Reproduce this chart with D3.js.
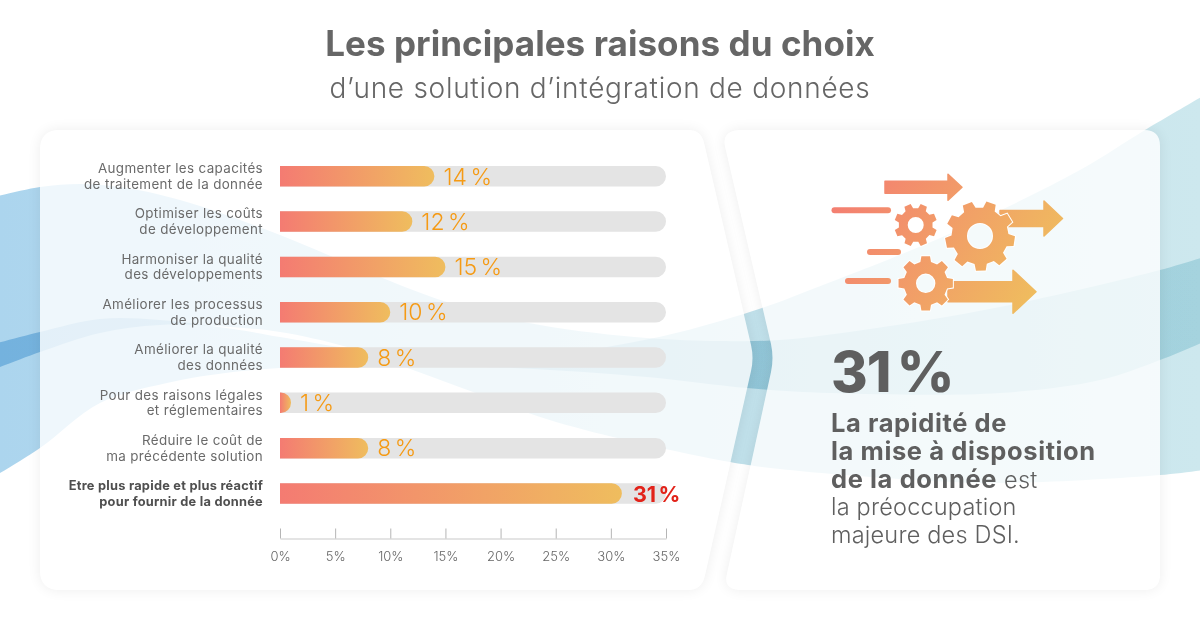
<!DOCTYPE html>
<html lang="fr">
<head>
<meta charset="utf-8">
<title>Les principales raisons du choix</title>
<script src="https://cdn.jsdelivr.net/npm/d3@7"></script>
<style>
html,body{margin:0;padding:0;background:#fff;}
svg{display:block;font-family:Inter,"Open Sans",sans-serif;}
</style>
</head>
<body>
<svg id="chart" width="1200" height="630" viewBox="0 0 1200 630"></svg>
<script>
// ---------- data ----------
const categories = [
  ["Augmenter les capacités", "de traitement de la donnée"],
  ["Optimiser les coûts", "de développement"],
  ["Harmoniser la qualité", "des développements"],
  ["Améliorer les processus", "de production"],
  ["Améliorer la qualité", "des données"],
  ["Pour des raisons légales", "et réglementaires"],
  ["Réduire le coût de", "ma précédente solution"],
  ["Etre plus rapide et plus réactif", "pour fournir de la donnée"]
];
const values = [14, 12, 15, 10, 8, 1, 8, 31];
const valueLabels = ["14 %", "12 %", "15 %", "10 %", "8 %", "1 %", "8 %", "31 %"];
const highlightIndex = 7;
const axisTicks = [0, 5, 10, 15, 20, 25, 30, 35];
const titleText = "Les principales raisons du choix";
const subtitleText = "d’une solution d’intégration de données";
const bigNumber = "31 %";
const boldLines = ["La rapidité de", "la mise à disposition", "de la donnée"];
const boldTail = " est";
const lightLines = ["la préoccupation", "majeure des DSI."];

// background ribbons (decor outlines)
const ribbonXTop = [[-10,198],[40,187],[80,184],[120,187],[180,200],[280,235],[380,277],[447,302],[540,325],[647,338],[720,341],[780,340],[870,329],[1000,307],[1160,270],[1210,255]];
const ribbonXBottom = [[-10,371],[40,352],[100,333],[160,325],[230,327],[280,332],[347,347],[413,370],[473,392],[540,417],[613,437],[730,462],[780,469],[900,479],[1000,483],[1160,475],[1210,469]];
const ribbonYTop = [[-10,345],[40,332],[100,319],[160,320],[233,329],[280,337],[347,348],[450,358],[540,356],[607,347],[680,332],[762,308],[810,290],[947,235],[1080,170],[1145,130],[1210,92]];
const ribbonYBottom = [[-10,479],[40,448],[100,403],[167,383],[233,372],[300,367],[413,366],[513,368],[647,377],[747,388],[830,393],[1000,393],[1100,380],[1160,360],[1210,339]];

// ---------- layout helpers ----------
const svg = d3.select("#chart");
const defs = svg.append("defs");
const INK = "#5f5f5f";

const ribbonGrad = defs.append("linearGradient").attr("id","ribbonGrad")
  .attr("gradientUnits","userSpaceOnUse").attr("x1",0).attr("x2",1200).attr("y1",0).attr("y2",0);
ribbonGrad.append("stop").attr("offset",0).attr("stop-color","#acd5ee");
ribbonGrad.append("stop").attr("offset",0.62).attr("stop-color","#c0e0ea");
ribbonGrad.append("stop").attr("offset",1).attr("stop-color","#cde8ee");

const barGrad = defs.append("linearGradient").attr("id","barGrad");
barGrad.append("stop").attr("offset",0).attr("stop-color","#f47b72");
barGrad.append("stop").attr("offset",1).attr("stop-color","#efbd5e");

const iconGrad = defs.append("linearGradient").attr("id","iconGrad")
  .attr("gradientUnits","userSpaceOnUse").attr("x1",835).attr("y1",180).attr("x2",1035).attr("y2",300);
iconGrad.append("stop").attr("offset",0).attr("stop-color","#f47b72");
iconGrad.append("stop").attr("offset",1).attr("stop-color","#efbd5e");

const blur = defs.append("filter").attr("id","soft").attr("x","-10%").attr("y","-10%").attr("width","120%").attr("height","120%");
blur.append("feGaussianBlur").attr("stdDeviation",7);

// ---------- ribbons ----------
const edge = d3.line().curve(d3.curveCatmullRom.alpha(0.5));
function ribbon(top, bottom){
  return edge(top) + "L" + edge(bottom.slice().reverse()).slice(1) + "Z";
}
const ribbons = svg.append("g").style("isolation","isolate");
[[ribbonXTop,ribbonXBottom],[ribbonYTop,ribbonYBottom]].forEach(([t,b])=>{
  ribbons.append("path").attr("d",ribbon(t,b)).attr("fill","url(#ribbonGrad)").style("mix-blend-mode","multiply");
});

// ---------- cards ----------
const leftCard = "M60,130H688Q701,130 704,143L751,345Q754,358 751,371L705,575Q702,590 688,590H60Q40,590 40,570V150Q40,130 60,130Z";
const rightCard = "M742,130H1144Q1160,130 1160,146V574Q1160,590 1144,590H742Q723,590 727,574L771,372Q774,358 771,344L725,146Q722,130 742,130Z";
const outside = "M-50,-50H1250V680H-50Z";
[leftCard,rightCard].forEach((d,i)=>{
  const id = "outside"+i;
  defs.append("clipPath").attr("id",id).append("path").attr("clip-rule","evenodd").attr("d",outside+d);
  svg.append("g").attr("clip-path",`url(#${id})`)
    .append("path").attr("d",d).attr("fill","#000").attr("opacity",0.07).attr("filter","url(#soft)");
});
svg.append("path").attr("d",leftCard).attr("fill","#fff").attr("fill-opacity",0.8);
svg.append("path").attr("d",rightCard).attr("fill","#fff").attr("fill-opacity",0.8);

// ---------- titles ----------
svg.append("text").attr("x",600).attr("y",56).attr("text-anchor","middle")
  .attr("font-size",35).attr("font-weight",700).attr("letter-spacing",0.07).attr("fill","#666").text(titleText);
svg.append("text").attr("x",600).attr("y",98).attr("text-anchor","middle")
  .attr("font-size",28).attr("font-weight",300).attr("letter-spacing",0.72).attr("fill","#666").text(subtitleText);

// ---------- chart ----------
const x = d3.scaleLinear().domain([0,35]).range([280,666]);
const y = d3.scalePoint().domain(d3.range(categories.length)).range([176.3,493.5]);
const barH = 20.5;

function barPath(v){
  const x0 = x(0), x1 = x(v), r = Math.min(barH/2, x1-x0), p = d3.path();
  p.moveTo(x0,-barH/2);
  p.lineTo(x1-r,-barH/2);
  p.arc(x1-r,-barH/2+barH/2,barH/2,-Math.PI/2,Math.PI/2);
  p.lineTo(x0,barH/2);
  p.closePath();
  return p.toString();
}

const rows = svg.append("g").selectAll("g").data(values).join("g")
  .attr("transform",(d,i)=>`translate(0,${y(i)})`);
rows.append("path").attr("d",barPath(35)).attr("fill","#e4e4e4");
rows.append("path").attr("d",d=>barPath(d)).attr("fill","url(#barGrad)");

const labels = rows.append("text").attr("text-anchor","end")
  .attr("font-size",(d,i)=>i===highlightIndex?12.8:13.4).attr("fill",(d,i)=>i===highlightIndex?"#4f4f4f":"#6a6a6a")
  .attr("font-weight",(d,i)=>i===highlightIndex?700:400)
  .attr("letter-spacing",(d,i)=>i===highlightIndex?0.25:0.36);
labels.selectAll("tspan").data((d,i)=>categories[i]).join("tspan")
  .attr("x",263).attr("y",(d,i)=>i===0?-3.2:12.5).text(d=>d);

rows.append("text")
  .attr("x",(d,i)=>x(d)+(i===highlightIndex?11:9))
  .attr("y",8.2)
  .attr("font-size",(d,i)=>i===highlightIndex?21.5:23)
  .attr("font-weight",(d,i)=>i===highlightIndex?700:300)
  .attr("letter-spacing",0)
  .attr("word-spacing",(d,i)=>i===highlightIndex?-2.5:-3)
  .attr("fill",(d,i)=>i===highlightIndex?"#e2231a":"#f59a14")
  .text((d,i)=>valueLabels[i]);

const axis = svg.append("g").attr("transform","translate(0,538.5)")
  .call(d3.axisBottom(x).tickValues(axisTicks).tickFormat(d=>d+"%").tickSizeOuter(0).tickSizeInner(-10).tickPadding(10));
axis.select(".domain").attr("stroke","#c9c9c9").attr("stroke-width",1.2);
axis.selectAll(".tick line").attr("stroke","#b5b5b5");
axis.selectAll(".tick text").attr("font-family","Inter").attr("font-size",13).attr("font-weight",300).attr("fill","#666").attr("dy","0.95em");

// ---------- icon ----------
const icon = svg.append("g");
function arrow(x0,x1,yc,halfShaft,halfHead,tip){
  const p = d3.path();
  p.moveTo(x0,yc-halfShaft); p.lineTo(x1,yc-halfShaft); p.lineTo(x1,yc-halfHead);
  p.lineTo(tip,yc); p.lineTo(x1,yc+halfHead); p.lineTo(x1,yc+halfShaft);
  p.lineTo(x0,yc+halfShaft); p.closePath();
  return p.toString();
}
function gear(cx,cy,rOuter,rRoot,rHole,teeth,rot){
  const p = d3.path(), step = 2*Math.PI/teeth;
  for(let i=0;i<teeth;i++){
    const a = rot+i*step;
    const pt = (r,da)=>[cx+r*Math.cos(a+da),cy+r*Math.sin(a+da)];
    const seq = [pt(rRoot,-step*0.31),pt(rOuter,-step*0.2),pt(rOuter,step*0.2),pt(rRoot,step*0.31)];
    seq.forEach((q,j)=>{ (i===0&&j===0)?p.moveTo(q[0],q[1]):p.lineTo(q[0],q[1]); });
  }
  p.closePath();
  p.moveTo(cx+rHole,cy);
  p.arc(cx,cy,rHole,0,2*Math.PI);
  p.closePath();
  return p.toString();
}
const iconFill = sel => sel.attr("fill","url(#iconGrad)").attr("stroke","url(#iconGrad)").attr("stroke-width",1.5).attr("stroke-linejoin","round");
[[885,948,187.3,6,13,962],[1000,1044,218.5,8,17.5,1062.5],[948,1013,291.7,10,21.5,1036]].forEach(a=>{
  icon.append("path").attr("d",arrow(...a)).call(iconFill);
});
[[834.5,888,210.3],[870,898,252],[848,888,281]].forEach(([a,b,c])=>{
  icon.append("line").attr("x1",a).attr("x2",b).attr("y1",c).attr("y2",c)
    .attr("stroke","url(#iconGrad)").attr("stroke-width",6).attr("stroke-linecap","round");
});
[[915.7,225,21.5,17,8,8,0.39],[980,236,35,28.5,13,9,0.15],[925.7,283.3,27.5,22,9.7,8,0]].forEach(g=>{
  icon.append("path").attr("d",gear(...g)).attr("fill-rule","evenodd")
    .attr("fill","url(#iconGrad)").attr("stroke","#fff").attr("stroke-width",2).style("paint-order","stroke");
});

// ---------- right text ----------
svg.append("text").attr("x",831).attr("y",392).attr("font-size",56).attr("font-weight",800)
  .attr("letter-spacing",-1).attr("word-spacing",-5).attr("fill",INK).text(bigNumber);
const bold = svg.append("g").attr("fill",INK);
const lineY = d3.scaleLinear().domain([0,4]).range([432,543]);
boldLines.forEach((t,i)=>{
  const el = bold.append("text").attr("x",831).attr("y",lineY(i));
  el.append("tspan").attr("font-size",25.5).attr("letter-spacing",0.6).attr("font-weight",700).text(t);
  if(i===boldLines.length-1) el.append("tspan").attr("font-size",23.5).attr("letter-spacing",0.3).attr("font-weight",300).attr("xml:space","preserve").text(boldTail);
});
lightLines.forEach((t,i)=>{
  bold.append("text").attr("x",831).attr("y",lineY(i+3)).attr("font-size",23.5).attr("letter-spacing",0.2).attr("font-weight",300).text(t);
});
</script>
</body>
</html>
